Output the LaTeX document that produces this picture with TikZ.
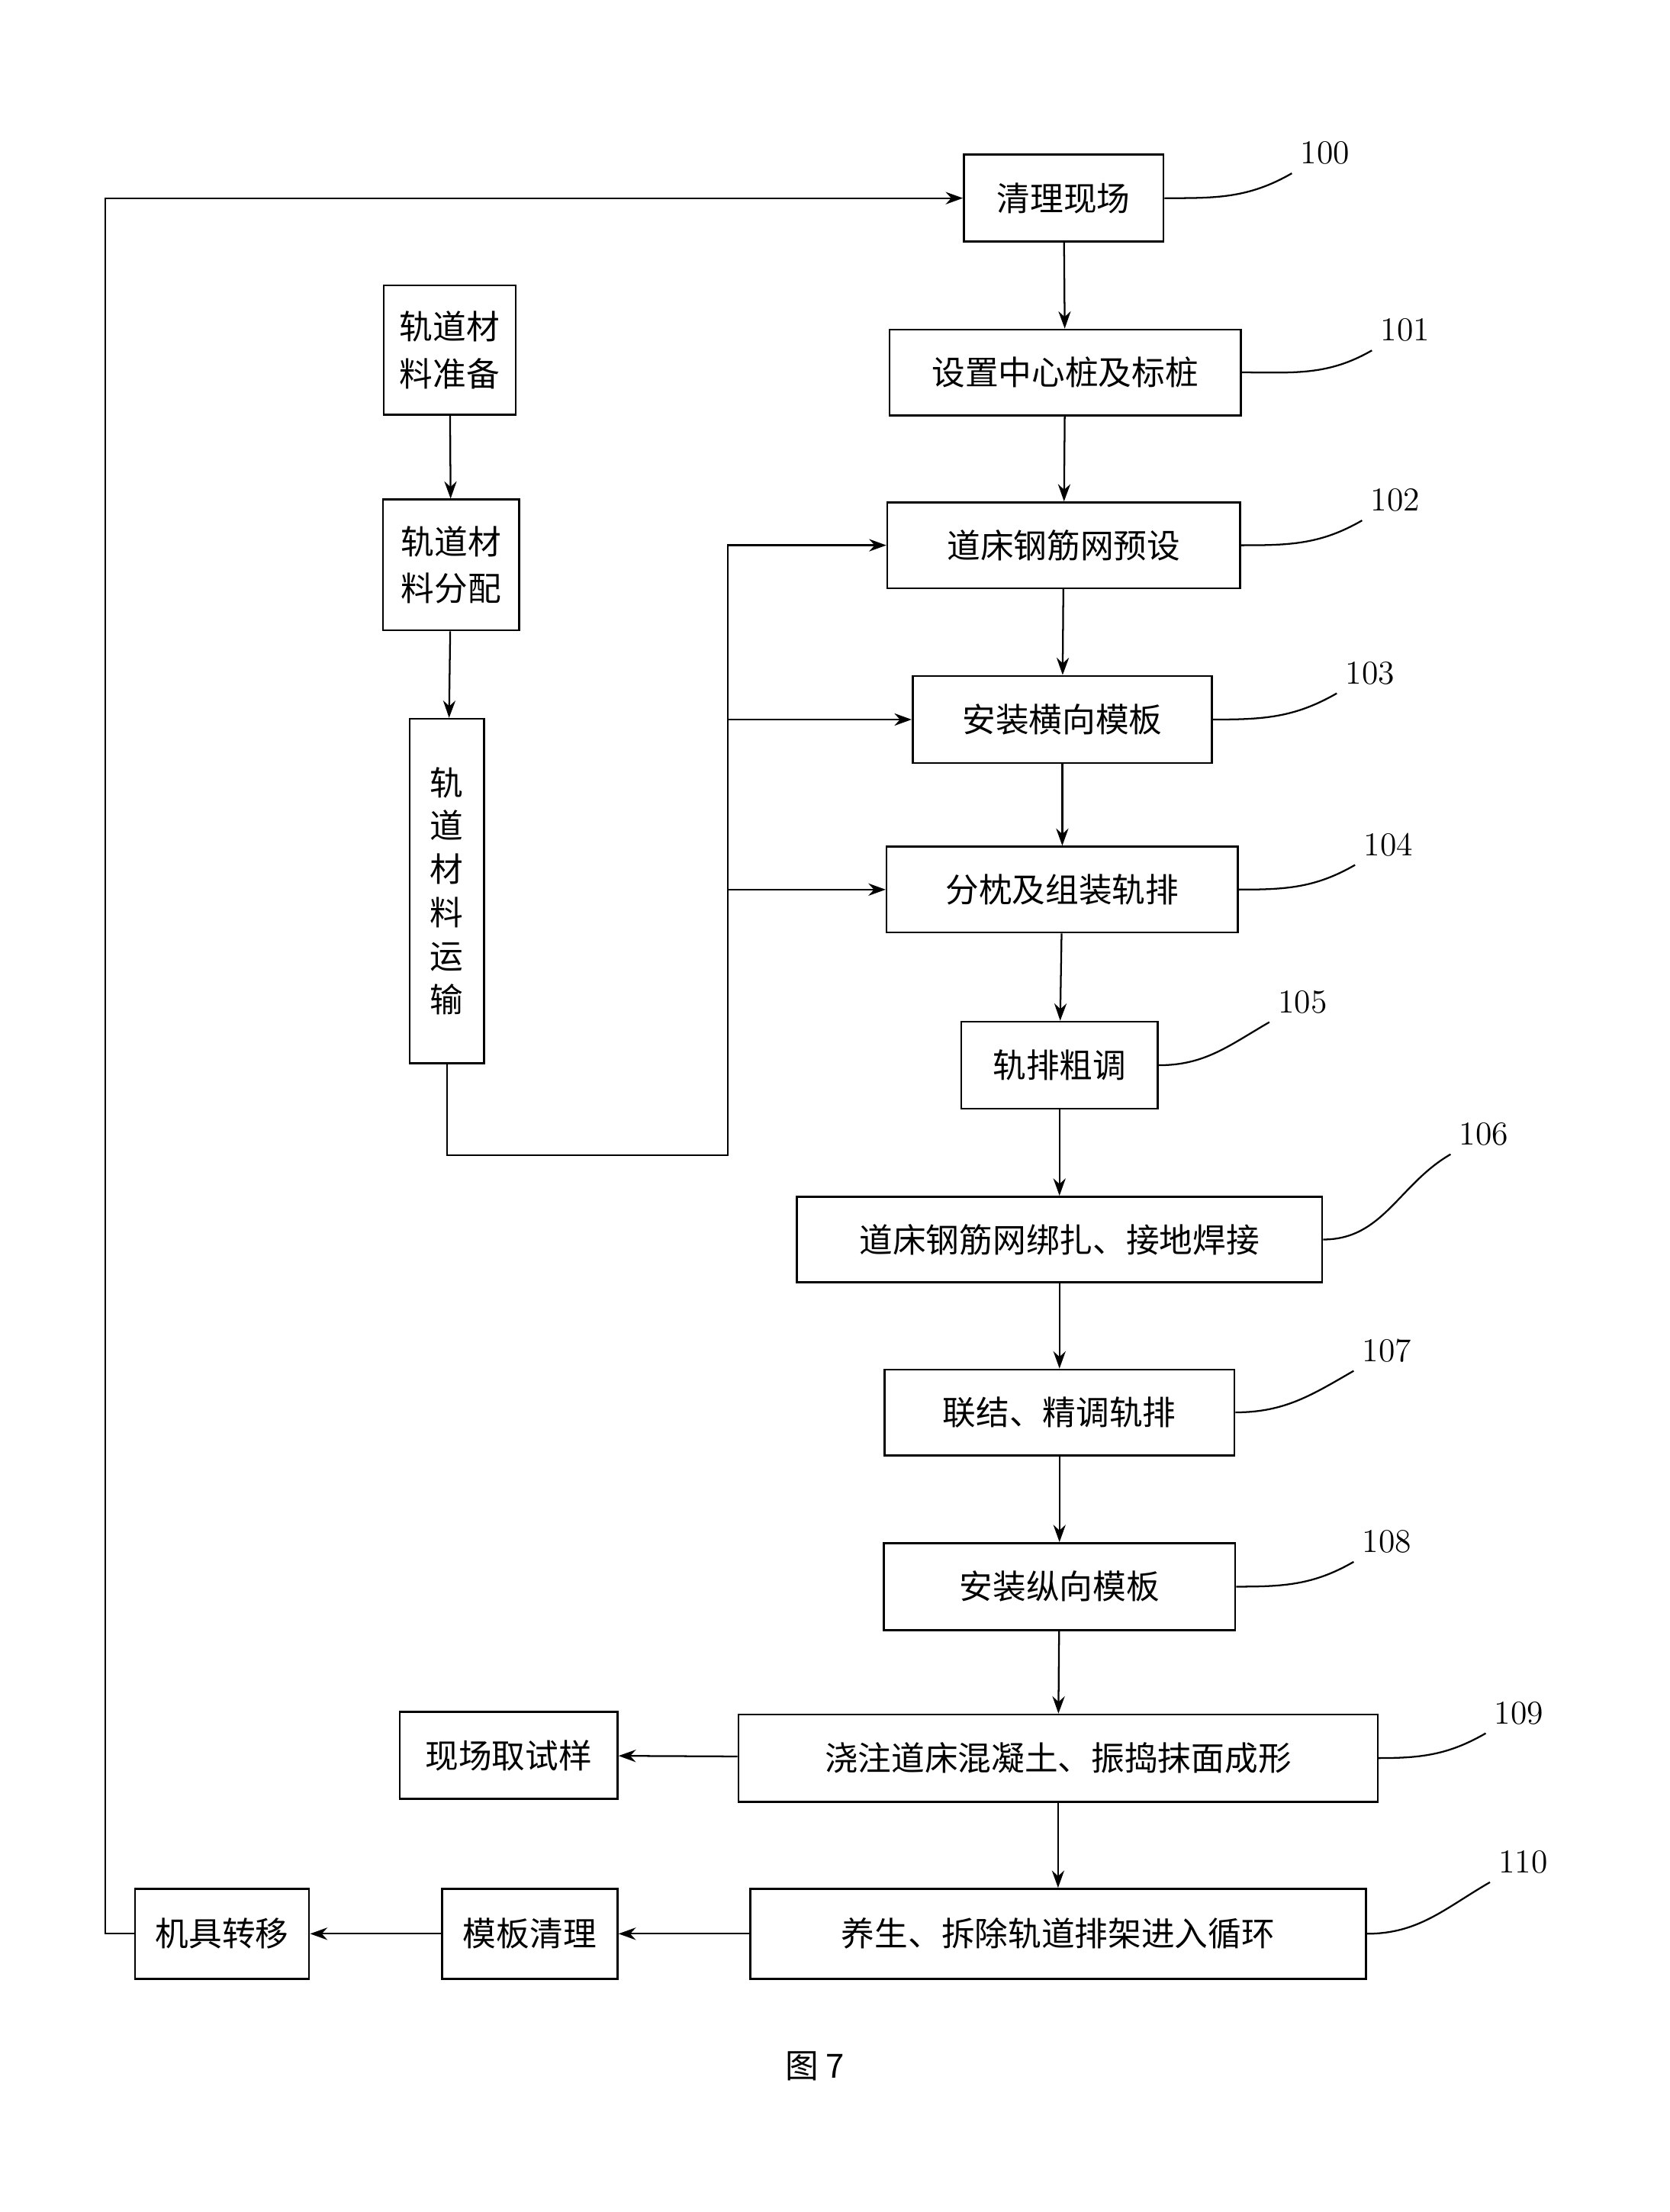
\documentclass[tikz,border=0pt]{standalone}
\usepackage{fontspec}
\newfontfamily\cjk{Noto Sans CJK SC}
\usetikzlibrary{arrows.meta,calc}
\newlength\px \setlength\px{0.02cm}
\tikzstyle{bx}=[draw=black,line width=0.8pt,inner sep=2pt,font=\cjk\fontsize{13.5}{19}\selectfont]
\tikzstyle{num}=[font=\fontsize{13.5}{16}\selectfont]
\tikzstyle{ar}=[-{Stealth[length=7pt,width=5pt]},line width=0.7pt]
\tikzstyle{ld}=[line width=0.7pt]

\begin{document}
\begin{tikzpicture}[x=0.02cm,y=-0.02cm]
  \useasboundingbox (0,0) rectangle (1188,1574);
  % main column
  \node [bx,minimum width=142\px,minimum height=62\px] (n100) at (757,141) {清理现场};
  \node [bx,minimum width=250\px,minimum height=61\px] (n101) at (758,265) {设置中心桩及标桩};
  \node [bx,minimum width=251\px,minimum height=61\px] (n102) at (757,388) {道床钢筋网预设};
  \node [bx,minimum width=213\px,minimum height=62\px] (n103) at (756,512) {安装横向模板};
  \node [bx,minimum width=250\px,minimum height=61\px] (n104) at (756,633) {分枕及组装轨排};
  \node [bx,minimum width=140\px,minimum height=62\px] (n105) at (754,758) {轨排粗调};
  \node [bx,minimum width=374\px,minimum height=61\px] (n106) at (754,882) {道床钢筋网绑扎、接地焊接};
  \node [bx,minimum width=249\px,minimum height=61\px] (n107) at (754,1005) {联结、精调轨排};
  \node [bx,minimum width=250\px,minimum height=62\px] (n108) at (754,1129) {安装纵向模板};
  \node [bx,minimum width=455\px,minimum height=62\px] (n109) at (753,1251) {浇注道床混凝土、振捣抹面成形};
  \node [bx,minimum width=438\px,minimum height=64\px] (n110) at (753,1376) {养生、拆除轨道排架进入循环};
  % side boxes
  \node [bx,minimum width=155\px,minimum height=62\px] (sample) at (362,1249) {现场取试样};
  \node [bx,minimum width=125\px,minimum height=64\px] (clean) at (377,1376) {模板清理};
  \node [bx,minimum width=124\px,minimum height=64\px] (move) at (158,1376) {机具转移};
  \node [bx,minimum width=94\px,minimum height=92\px,align=center] (m1) at (320,249) {轨道材\\料准备};
  \node [bx,minimum width=97\px,minimum height=93\px,align=center] (m2) at (321,402) {轨道材\\料分配};
  \node [bx,minimum width=53\px,minimum height=245\px,align=center,font=\cjk\fontsize{13.5}{17.6}\selectfont] (m3) at (318,634) {轨\\道\\材\\料\\运\\输};
  \node [num] (l100) at (943,109) {100};
  \node [num] (l101) at (1000,235) {101};
  \node [num] (l102) at (993,356) {102};
  \node [num] (l103) at (975,479) {103};
  \node [num] (l104) at (988,601) {104};
  \node [num] (l105) at (927,713) {105};
  \node [num] (l106) at (1056,807) {106};
  \node [num] (l107) at (987,961) {107};
  \node [num] (l108) at (987,1097) {108};
  \node [num] (l109) at (1081,1219) {109};
  \node [num] (l110) at (1084,1325) {110};
  \node [font=\cjk\fontsize{13.5}{16}\selectfont] (cap) at (580,1470) {图 7};
  \coordinate (c0) at (318,822);
  \coordinate (c1) at (518,822);
  \coordinate (c2) at (518,388);
  \coordinate (c3) at (518,512);
  \coordinate (c4) at (518,633);
  \coordinate (c5) at (75,1376);
  \coordinate (c6) at (75,141);
  % flow
  \draw [ar] (n100) -- (n101);
  \draw [ar] (n101) -- (n102);
  \draw [ar] (n102) -- (n103);
  \draw [ar] (n103) -- (n104);
  \draw [ar] (n104) -- (n105);
  \draw [ar] (n105) -- (n106);
  \draw [ar] (n106) -- (n107);
  \draw [ar] (n107) -- (n108);
  \draw [ar] (n108) -- (n109);
  \draw [ar] (n109) -- (n110);
  \draw [ar] (n109) -- (sample);
  \draw [ar] (n110) -- (clean);
  \draw [ar] (clean) -- (move);
  \draw [ar] (move.west) -- (c5) -- (c6) -- (n100.west);
  \draw [ar] (m1) -- (m2);
  \draw [ar] (m2) -- (m3);
  \draw [ar] (m3.south) -- (c0) -- (c1) -- (c2) -- (n102.west);
  \draw [ar] (c3) -- (n103.west);
  \draw [ar] (c4) -- (n104.west);
  % leaders
  \foreach \n in {100,101,102,103,104,105,106,107,108,109,110}
    \draw [ld] (n\n.east) to[out=0,in=210] (l\n.south west);
\end{tikzpicture}
\end{document}
